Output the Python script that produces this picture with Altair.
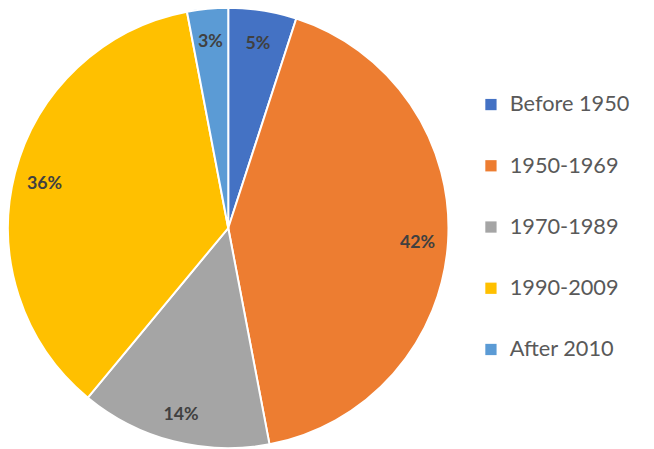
import altair as alt
import pandas as pd

categories = ["Before 1950", "1950-1969", "1970-1989", "1990-2009", "After 2010"]
values = [5, 42, 14, 36, 3]
colors = ["#4472C4", "#ED7D31", "#A5A5A5", "#FFC000", "#5B9BD5"]

df = pd.DataFrame({
    "category": categories,
    "value": values,
    "order": list(range(len(categories))),
    "label": [f"{v}%" for v in values],
})

cx, cy, r = 223, 220, 223

base = alt.Chart(df).encode(
    theta=alt.Theta("value:Q", stack=True),
    order=alt.Order("order:Q", sort="ascending"),
)

color = alt.Color(
    "category:N",
    scale=alt.Scale(domain=categories, range=colors),
    sort=categories,
    legend=alt.Legend(
        title=None,
        orient="none",
        legendX=478,
        legendY=84,
        symbolType="square",
        symbolSize=130,
        symbolStrokeWidth=0,
        labelFontSize=22,
        labelFont="Lato",
        labelColor="#595959",
        labelOffset=8,
        rowPadding=40,
        labelLimit=300,
    ),
)

arcs = base.mark_arc(outerRadius=r, stroke="white", strokeWidth=2).encode(
    color=color,
    x=alt.value(cx),
    y=alt.value(cy),
)

texts = base.mark_text(
    radius=192, fontSize=18, fontWeight="bold", font="Lato", color="#404040", dy=3
).encode(
    text="label:N",
    x=alt.value(cx),
    y=alt.value(cy),
)

chart = alt.layer(arcs, texts).properties(
    width=646, height=441, autosize=alt.AutoSizeParams(type="none"), padding=0
).configure_view(stroke=None)

chart.save("out.html", embed_options={"renderer": "svg", "actions": False})
